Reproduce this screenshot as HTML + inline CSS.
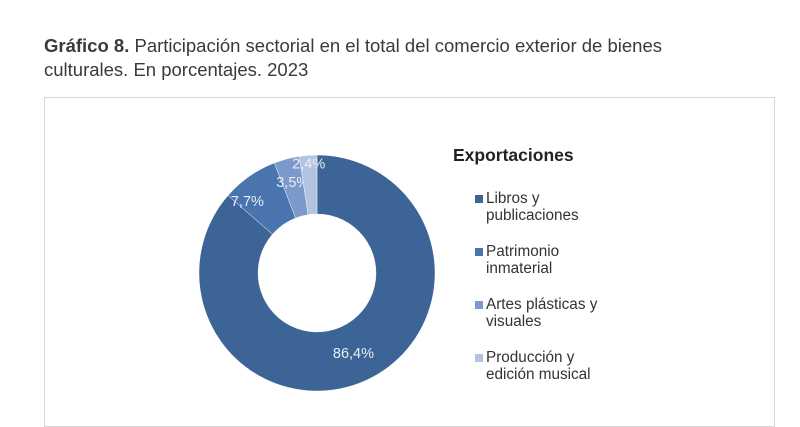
<!DOCTYPE html>
<html><head><meta charset="utf-8"><style>
body{margin:0;width:800px;height:411px;background:#fff;overflow:hidden;font-family:"Liberation Sans",sans-serif;color:#333}
.title{position:absolute;left:44px;top:34px;font-size:18.5px;line-height:24px;color:#3a3a3a}
.box{position:absolute;left:44px;top:97px;width:731px;height:330px;border:1.5px solid #d6d6d6;box-sizing:border-box}
.leg-t{position:absolute;left:453px;top:145px;font-size:17.5px;font-weight:bold;color:#222}
.li{position:absolute;left:475px;font-size:15.3px;line-height:16.5px;color:#333}
.li span{position:absolute;left:0;top:4px;width:8px;height:8px}
.li div{margin-left:11px}
</style></head><body>
<div class="title"><b>Gráfico 8.</b> Participación sectorial en el total del comercio exterior de bienes<br>culturales. En porcentajes. 2023</div>
<div class="box"></div>
<svg width="800" height="411" style="position:absolute;left:0;top:0" id="chart"></svg>
<div class="leg-t">Exportaciones</div>
<div class="li" style="top:191px"><span style="background:#3c6496"></span><div>Libros y<br>publicaciones</div></div>
<div class="li" style="top:244px"><span style="background:#4a74ae"></span><div>Patrimonio<br>inmaterial</div></div>
<div class="li" style="top:297px"><span style="background:#7b9acb"></span><div>Artes plásticas y<br>visuales</div></div>
<div class="li" style="top:350px"><span style="background:#b4c3e0"></span><div>Producción y<br>edición musical</div></div>
<script>
const categories=["Libros y publicaciones","Patrimonio inmaterial","Artes plásticas y visuales","Producción y edición musical"];
const values=[86.4,7.7,3.5,2.4];
const labels=["86,4%","7,7%","3,5%","2,4%"];
const colors=["#3c6496","#4a74ae","#7b9acb","#b4c3e0"];
const svg=document.getElementById('chart');
const NS="http://www.w3.org/2000/svg";
const cx=317,cy=273,R=118,r=59;
const total=values.reduce((a,b)=>a+b,0);
function pt(a,rad){return [cx+Math.sin(a)*rad,cy-Math.cos(a)*rad];}
let acc=0;
values.forEach((v,i)=>{
  const a0=acc/total*2*Math.PI;acc+=v;const a1=acc/total*2*Math.PI;
  const lg=(a1-a0)>Math.PI?1:0;
  const [x0,y0]=pt(a0,R),[x1,y1]=pt(a1,R),[x2,y2]=pt(a1,r),[x3,y3]=pt(a0,r);
  const p=document.createElementNS(NS,'path');
  p.setAttribute('d',`M${x0},${y0}A${R},${R} 0 ${lg} 1 ${x1},${y1}L${x2},${y2}A${r},${r} 0 ${lg} 0 ${x3},${y3}Z`);
  p.setAttribute('fill',colors[i]);p.setAttribute('stroke','#fff');p.setAttribute('stroke-width','0.4');
  
  
  svg.appendChild(p);
  const am=(a0+a1)/2;
  let lr=88,dx=0;
  if(v<=20&&v>5){lr=88;dx=-19;} else if(v<=5&&v>3){lr=94;} else if(v<=3){lr=110;}
  const [lx,ly]=pt(am,lr);
  const t=document.createElementNS(NS,'text');
  t.setAttribute('x',lx+dx);t.setAttribute('y',ly+5);t.setAttribute('text-anchor','middle');
  t.setAttribute('font-size','14.5');t.setAttribute('fill','#e8eef8');t.setAttribute('font-family','Liberation Sans, sans-serif');
  t.textContent=labels[i];
  
  
  svg.appendChild(t);
});
</script>
</body></html>
